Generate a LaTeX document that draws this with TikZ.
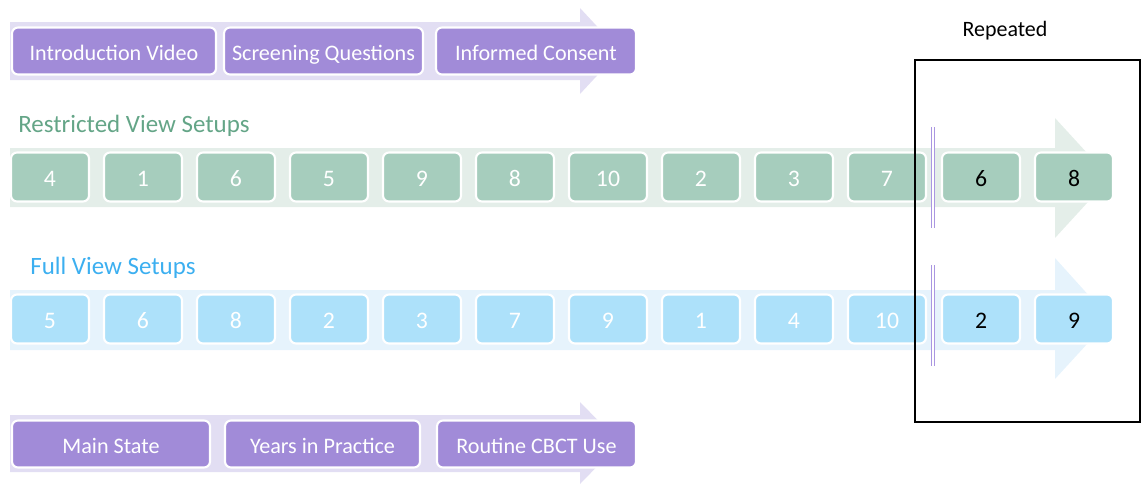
\documentclass[tikz,border=0pt]{standalone}
\usepackage{fontspec}
\setmainfont{Carlito}
\definecolor{purbox}{RGB}{161,139,216}
\definecolor{purband}{RGB}{226,222,243}
\definecolor{grnbox}{RGB}{166,205,189}
\definecolor{grnband}{RGB}{228,238,233}
\definecolor{grntxt}{RGB}{100,165,135}
\definecolor{blubox}{RGB}{173,225,250}
\definecolor{bluband}{RGB}{230,243,252}
\definecolor{blutxt}{RGB}{60,175,240}
\definecolor{sepline}{RGB}{170,150,225}
\begin{document}
\begin{tikzpicture}[x=0.02cm,y=-0.02cm,
  base/.style={rounded corners=0.12cm,draw=white,line width=1.2pt,inner sep=0pt,text height=2.2ex,text depth=0ex},
  pbox/.style={base,fill=purbox,text=white,minimum height=0.94cm,font=\fontsize{12.6}{15}\selectfont},
  gbox/.style={base,fill=grnbox,text=white,minimum width=1.56cm,minimum height=0.98cm,font=\fontsize{13.5}{16}\selectfont},
  bbox/.style={base,fill=blubox,text=white,minimum width=1.56cm,minimum height=0.98cm,font=\fontsize{13.5}{16}\selectfont},
  rep/.style={text=black},
  seplines/.style={draw=sepline,line width=0.6pt,double=white,double distance=1.2pt}]
\useasboundingbox (0,0) rectangle (1143,484);
% bands with arrowheads
\fill[purband] (10,22) -- (580,22) -- (580,8) -- (620,51) -- (580,94) -- (580,80) -- (10,80) -- cycle;
\fill[grnband] (10,148) -- (1055,148) -- (1055,118) -- (1110,178) -- (1055,238) -- (1055,207) -- (10,207) -- cycle;
\fill[bluband] (10,290) -- (1055,290) -- (1055,258) -- (1110,319) -- (1055,379) -- (1055,350) -- (10,350) -- cycle;
\fill[purband] (10,415) -- (580,415) -- (580,402) -- (620,443) -- (580,484) -- (580,472) -- (10,472) -- cycle;
% top row
\node[pbox,minimum width=4.08cm] (t1) at (114,51) {Introduction Video};
\node[pbox,minimum width=3.98cm] (t2) at (323.5,51) {Screening Questions};
\node[pbox,minimum width=4.0cm] (t3) at (536,51) {Informed Consent};
% labels
\node[anchor=west,text=grntxt,font=\fontsize{14.2}{17}\selectfont,inner sep=0pt] (rlab) at (18,126) {Restricted View Setups};
\node[anchor=west,text=blutxt,font=\fontsize{14.2}{17}\selectfont,inner sep=0pt] (flab) at (30,268) {Full View Setups};
% green row
\foreach \n/\v [count=\i from 0] in {g1/4,g2/1,g3/6,g4/5,g5/9,g6/8,g7/10,g8/2,g9/3,g10/7}
  \node[gbox] (\n) at ({50+93*\i},177) {\v};
\node[gbox,rep] (g11) at (981,177) {6};
\node[gbox,rep] (g12) at (1074,177) {8};
% blue row
\foreach \n/\v [count=\i from 0] in {b1/5,b2/6,b3/8,b4/2,b5/3,b6/7,b7/9,b8/1,b9/4,b10/10}
  \node[bbox] (\n) at ({50+93*\i},319) {\v};
\node[bbox,rep] (b11) at (981,319) {2};
\node[bbox,rep] (b12) at (1074,319) {9};
% separators
\draw[seplines] (933,127) -- (933,228);
\draw[seplines] (933,265) -- (933,366);
% bottom row
\node[pbox,minimum width=3.96cm] (m1) at (111,444) {Main State};
\node[pbox,minimum width=3.9cm] (m2) at (322.5,444) {Years in Practice};
\node[pbox,minimum width=3.98cm] (m3) at (536.5,444) {Routine CBCT Use};
% repeated box
\draw[black,line width=0.8pt] (915,60) rectangle (1140,422);
\node[font=\fontsize{12.5}{15}\selectfont,inner sep=0pt] (replab) at (1005,31) {Repeated};
\end{tikzpicture}
\end{document}
